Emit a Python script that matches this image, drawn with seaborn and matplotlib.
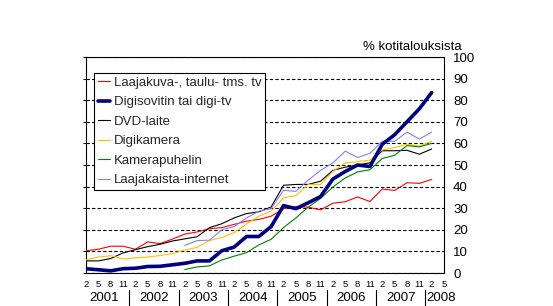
import numpy as np
import pandas as pd
import matplotlib
matplotlib.use("Agg")
import matplotlib.pyplot as plt
import seaborn as sns
from matplotlib.lines import Line2D
import matplotlib.transforms as mtransforms

# ---------------- data ----------------
month_labels = ["2", "5", "8", "11"] * 7 + ["2", "5"]
years = ["2001", "2002", "2003", "2004", "2005", "2006", "2007", "2008"]
series_names = ["Laajakuva-, taulu- tms. tv", "Digisovitin tai digi-tv", "DVD-laite",
                "Digikamera", "Kamerapuhelin", "Laajakaista-internet"]
nan = np.nan
laajakuva = [10.3, 11, 12.4, 12.4, 11, 14.4, 13.6, 15.7, 18, 19, 20.5, 21, 22.5, 24, 24.8,
             26.3, 29.8, 30.7, 30.5, 29.2, 32.3, 33, 35.2, 33.1, 38.9, 38.2, 41.8, 41.5, 43.3]
digisovitin = [2, 1.5, 1, 2, 2.2, 3, 3.1, 3.8, 4.5, 5.6, 5.6, 10.3, 12, 16.9, 16.9,
               21.5, 31.2, 29.8, 32.5, 35.4, 43.5, 47, 50, 49.3, 59.6, 64, 70, 76, 83.5]
dvd = [5.6, 5.6, 6.7, 9.3, 10.8, 12.2, 13.3, 14.8, 15.8, 16.8, 21, 22.8, 25.5, 27.5, 28.3,
       30.6, 40.6, 41, 41, 42.5, 47.5, 49, 50, 51, 56.6, 56.6, 56.8, 55, 57.4]
digikamera = [6.1, 7.4, 8, 6.5, 7, 7.4, 8.1, 9, 10.6, 11.9, 15, 16.4, 18.7, 22.7, 26.3,
              28.7, 34.8, 35.8, 41, 41, 47, 51, 51.5, 52.3, 57, 58, 59.7, 58.7, 61]
kamerapuhelin = [nan] * 8 + [1.6, 2.8, 3.3, 6, 7.8, 9.4, 13, 15.6, 21, 25.5, 30.5, 34.5,
                             39.8, 44, 46.8, 47.8, 53, 54.5, 59, 58.4, 60]
laajakaista = [nan] * 8 + [12.8, 15, 15.2, 20, 21.5, 25.5, 28.6, 29.8, 38.3, 37.8, 43, 47.5,
                           51, 56.4, 53.5, 55.4, 61, 61, 65.2, 62, 65.2]
data = [laajakuva, digisovitin, dvd, digikamera, kamerapuhelin, laajakaista]

colors = ["#FF0000", "#000080", "#000000", "#FFC000", "#008000", "#8080FF"]
widths = [0.8, 2.6, 0.8, 0.8, 0.8, 0.8]
zorders = [3, 6, 3, 3, 3, 3]

rows = []
for name, vals in zip(series_names, data):
    for i, v in enumerate(vals):
        if not np.isnan(v):
            rows.append({"x": i, "value": v, "series": name})
df = pd.DataFrame(rows)

# ---------------- plot ----------------
sns.set_theme(style="white")
plt.rcParams['font.family'] = ['Liberation Sans', 'DejaVu Sans']

W, H = 553, 306
fig = plt.figure(figsize=(W / 100, H / 100), dpi=100)
fig.patch.set_facecolor("white")
ax = fig.add_axes([86 / W, 1 - 273 / H, (444 - 86) / W, (273 - 57) / H])

for name, c, w, z in zip(series_names, colors, widths, zorders):
    sns.lineplot(data=df[df["series"] == name], x="x", y="value", color=c,
                 linewidth=w, ax=ax, label=name, zorder=z)

ax.set_xlim(0, len(month_labels) - 1)
ax.set_ylim(0, 100)
ax.set_xlabel("")
ax.set_ylabel("")
ax.set_yticks(np.arange(0, 101, 10))
ax.set_xticks(np.arange(len(month_labels)))
ax.set_xticklabels(month_labels)

ax.yaxis.grid(True, linestyle=(0, (3, 2)), color="black", linewidth=0.8)
ax.xaxis.grid(False)
ax.set_axisbelow(True)
for s in ax.spines.values():
    s.set_visible(True)
    s.set_color("black")
    s.set_linewidth(0.8)

ax.tick_params(axis="y", which="both", left=True, right=False, labelleft=False,
               labelright=True, direction="out", length=2.5, width=0.8,
               color="black", pad=4, labelsize=9.5, labelcolor="black")
ax.tick_params(axis="x", length=0, pad=5, labelsize=6.8, labelcolor="black")

fig.text(462 / W, 1 - 46.7 / H, "% kotitalouksista", ha="right", va="center",
         fontsize=9.5, color="black")

trans = mtransforms.blended_transform_factory(ax.transData, ax.transAxes)
for k, yr in enumerate(years):
    xc = 4 * k + 1.5 if k < 7 else 28.75
    ax.text(xc, -0.116, yr, transform=trans, ha="center", va="center",
            fontsize=9.5, color="black", clip_on=False)
for k in range(1, 8):
    xs = 4 * k - 0.5
    ax.add_artist(Line2D([xs, xs], [-0.079, -0.152], transform=trans,
                         color="black", linewidth=0.8, clip_on=False))

leg = ax.legend(loc="upper left", bbox_to_anchor=(0.022, 0.927), borderaxespad=0,
                frameon=True, fancybox=False, edgecolor="black", framealpha=1,
                fontsize=9.5, handlelength=0.95, handletextpad=0.25, borderpad=0.3,
                labelspacing=0.55)
leg.get_frame().set_linewidth(0.8)

fig.savefig("out.png", dpi=100, facecolor="white")
